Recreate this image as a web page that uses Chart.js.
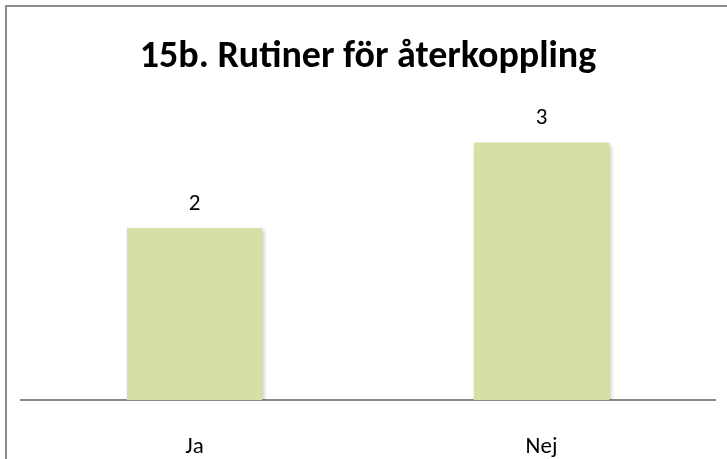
<!DOCTYPE html>
<html>
<head>
<meta charset="utf-8">
<script src="https://cdn.jsdelivr.net/npm/chart.js@4"></script>
<style>
  html, body { margin: 0; padding: 0; background: #fff; overflow: hidden; }
  canvas { display: block; }
</style>
</head>
<body>
<canvas id="chart" width="727" height="459"></canvas>
<script>
const categories = ["Ja", "Nej"];
const values = [2, 3];
const chartTitle = "15b. Rutiner för återkoppling";

const fontFamily = "Carlito, Lato, 'Open Sans', sans-serif";

// ram runt diagrammet
const chartFrame = {
  id: "chartFrame",
  beforeDraw(chart) {
    const c = chart.ctx;
    c.save();
    c.fillStyle = "#fff";
    c.fillRect(0, 0, chart.width, chart.height);
    c.strokeStyle = "#8c8c8c";
    c.lineWidth = 2;
    c.strokeRect(6, 6, chart.width + 20, chart.height + 20);
    c.restore();
  },
};

// skugga bakom staplarna
const barShadow = {
  id: "barShadow",
  beforeDatasetsDraw(chart) {
    const c = chart.ctx;
    c.save();
    c.shadowColor = "rgba(0,0,0,0.22)";
    c.shadowBlur = 4;
    c.shadowOffsetX = 2;
    c.shadowOffsetY = 2;
  },
  afterDatasetsDraw(chart) {
    chart.ctx.restore();
  },
};

// värden ovanför staplarna
const valueLabels = {
  id: "valueLabels",
  afterDatasetsDraw(chart) {
    const c = chart.ctx;
    const meta = chart.getDatasetMeta(0);
    c.save();
    c.fillStyle = "#000";
    c.font = "23px " + fontFamily;
    c.textAlign = "center";
    c.textBaseline = "middle";
    meta.data.forEach((bar, i) => {
      c.fillText(String(values[i]), bar.x, bar.y - 24);
    });
    c.restore();
  },
};

new Chart(document.getElementById("chart"), {
  type: "bar",
  data: {
    labels: categories,
    datasets: [
      {
        data: values,
        backgroundColor: "#d7dfa6",
        borderWidth: 0,
        barPercentage: 0.39,
        categoryPercentage: 1,
      },
    ],
  },
  options: {
    responsive: false,
    animation: false,
    layout: { padding: { left: 21, right: 12, top: 0, bottom: 0 } },
    plugins: {
      legend: { display: false },
      tooltip: { enabled: false },
      title: {
        display: true,
        text: chartTitle,
        color: "#000",
        font: { family: fontFamily, size: 38, weight: "bold", lineHeight: 1.2 },
        padding: { top: 35, bottom: 19 },
      },
    },
    scales: {
      x: {
        grid: { display: false, drawTicks: false },
        border: { color: "#888", width: 2 },
        ticks: {
          color: "#000",
          padding: 33,
          font: { family: fontFamily, size: 23 },
        },
        afterFit(scale) {
          scale.height = 59;
        },
      },
      y: { display: false, min: 0, max: 3.5 },
    },
  },
  plugins: [chartFrame, barShadow, valueLabels],
});
</script>
</body>
</html>
